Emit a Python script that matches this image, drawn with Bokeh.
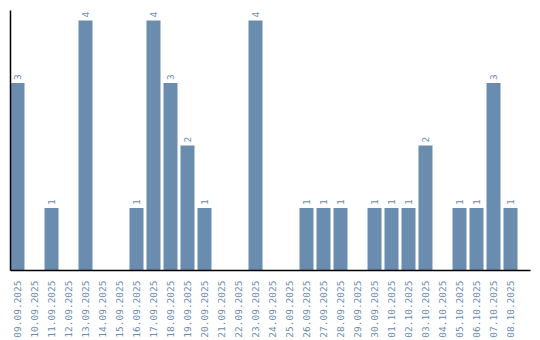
import math
from bokeh.plotting import figure
from bokeh.models import ColumnDataSource, Range1d, FixedTicker
from bokeh.core.properties import value
from bokeh.embed import file_html
from bokeh.resources import INLINE

dates = ["09.09.2025", "10.09.2025", "11.09.2025", "12.09.2025", "13.09.2025",
         "14.09.2025", "15.09.2025", "16.09.2025", "17.09.2025", "18.09.2025",
         "19.09.2025", "20.09.2025", "21.09.2025", "22.09.2025", "23.09.2025",
         "24.09.2025", "25.09.2025", "26.09.2025", "27.09.2025", "28.09.2025",
         "29.09.2025", "30.09.2025", "01.10.2025", "02.10.2025", "03.10.2025",
         "04.10.2025", "05.10.2025", "06.10.2025", "07.10.2025", "08.10.2025"]
counts = [3, 0, 1, 0, 4, 0, 0, 1, 4, 3, 2, 1, 0, 0, 4, 0, 0, 1, 1, 1,
          0, 1, 1, 1, 2, 0, 1, 1, 3, 1]

color = "#6a8caf"
step = 17.0
bw = 14.0 / step
xs = [i + 7.0 / step for i in range(len(dates))]

src = ColumnDataSource(dict(x=xs, top=counts))
lab_idx = [i for i, c in enumerate(counts) if c > 0]
lsrc = ColumnDataSource(dict(x=[xs[i] for i in lab_idx],
                             y=[counts[i] for i in lab_idx],
                             label=[str(counts[i]) for i in lab_idx]))

p = figure(width=540, height=340, frame_width=520, frame_height=260,
           output_backend="svg", toolbar_location=None,
           x_range=Range1d(0, 520.0 / step), y_range=Range1d(0, 4.16),
           min_border_left=10, min_border_right=10, min_border_top=10,
           min_border_bottom=0)
p.vbar(x="x", top="top", width=bw, bottom=0, source=src, fill_color=color,
       line_color=None)
p.text(x="x", y="y", text="label", source=lsrc, angle=math.pi / 2,
       text_font=value("DejaVu Sans Mono"), text_font_size="9.5px",
       text_color=color, text_align="left", text_baseline="middle",
       x_offset=0, y_offset=-3)

p.grid.visible = False
p.outline_line_color = None
p.background_fill_color = "white"
p.border_fill_color = "white"

p.xaxis.ticker = FixedTicker(ticks=xs)
p.xaxis.major_label_overrides = {x: d for x, d in zip(xs, dates)}
p.xaxis.major_label_orientation = math.pi / 2
p.xaxis.major_label_text_font = "DejaVu Sans Mono"
p.xaxis.major_label_text_font_size = "9.5px"
p.xaxis.major_label_text_color = color
p.xaxis.major_tick_line_color = None
p.xaxis.minor_tick_line_color = None
p.xaxis.axis_line_color = "black"
p.xaxis.axis_line_width = 1.5
p.xaxis.major_label_standoff = 4

p.yaxis.ticker = FixedTicker(ticks=[])
p.yaxis.major_tick_line_color = None
p.yaxis.minor_tick_line_color = None
p.yaxis.major_label_text_font_size = "0px"
p.yaxis.axis_line_color = "black"
p.yaxis.axis_line_width = 1.5

open("out.html", "w").write(file_html(p, INLINE))
